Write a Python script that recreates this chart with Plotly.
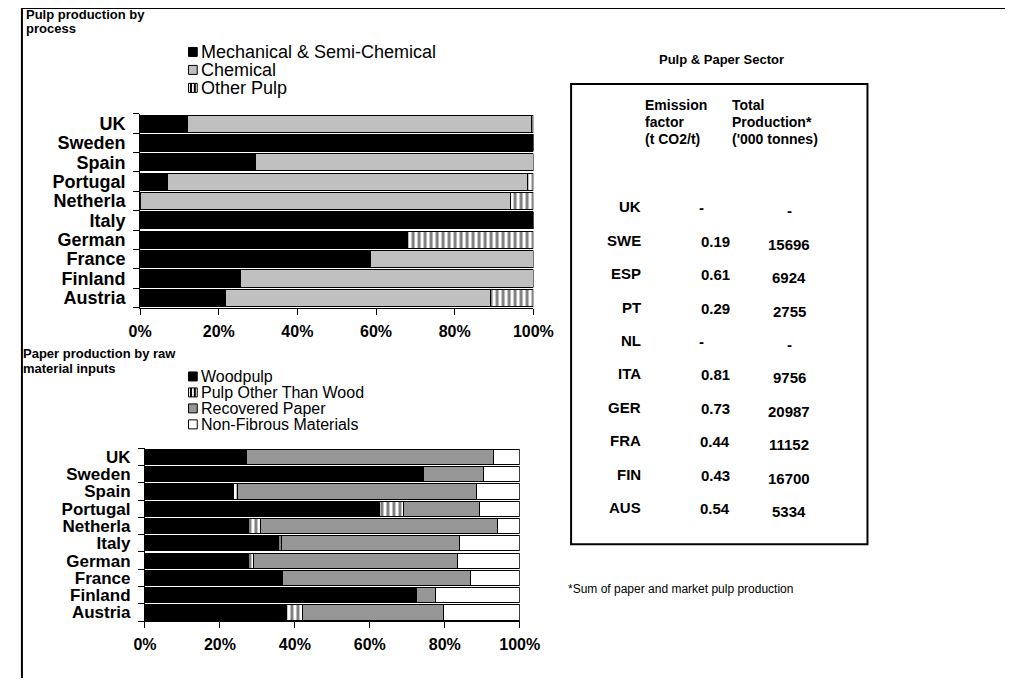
import plotly.graph_objects as go

# The page body adds an 8px margin on every side, so the figure is made
# 16px smaller than the window (no scrolling) and window-pixel positions
# below are shifted back by OFF.
WIN_W, WIN_H = 1033, 687
OFF = 8
W, H = WIN_W - 2 * OFF, WIN_H - 2 * OFF

countries = ["UK", "Sweden", "Spain", "Portugal", "Netherla", "Italy", "German", "France", "Finland", "Austria"]

# Pulp production by process (% shares)
pulp_series = ["Mechanical & Semi-Chemical", "Chemical", "Other Pulp"]
pulp_mech = [12.1, 100.0, 29.3, 7.0, 0.0, 100.0, 67.9, 58.5, 25.5, 21.6]
pulp_chem = [87.5, 0.0, 70.7, 91.6, 94.3, 0.0, 0.0, 41.5, 74.5, 67.5]
pulp_other = [0.4, 0.0, 0.0, 1.4, 5.7, 0.0, 32.1, 0.0, 0.0, 10.9]

# Paper production by raw material inputs (% shares)
paper_series = ["Woodpulp", "Pulp Other Than Wood", "Recovered Paper", "Non-Fibrous Materials"]
paper_wood = [27.0, 74.2, 23.7, 62.5, 27.6, 35.5, 27.6, 36.6, 72.4, 37.7]
paper_other = [0.0, 0.0, 1.1, 6.4, 3.2, 0.9, 1.3, 0.0, 0.0, 4.3]
paper_recov = [65.9, 16.2, 63.7, 20.3, 63.3, 47.6, 54.6, 50.2, 5.2, 37.7]
paper_nonfib = [7.1, 9.6, 11.5, 10.8, 5.9, 16.0, 16.5, 13.2, 22.4, 20.3]

pct_ticks = [0, 20, 40, 60, 80, 100]
pct_labels = [f"{v}%" for v in pct_ticks]

# Table
table_title = "Pulp & Paper Sector"
table_header_emission = ["Emission", "factor", "(t CO2/t)"]
table_header_production = ["Total", "Production*", "('000 tonnes)"]
table_codes = ["UK", "SWE", "ESP", "PT", "NL", "ITA", "GER", "FRA", "FIN", "AUS"]
table_emission = ["-", "0.19", "0.61", "0.29", "-", "0.81", "0.73", "0.44", "0.43", "0.54"]
table_production = ["-", "15696", "6924", "2755", "-", "9756", "20987", "11152", "16700", "5334"]
footnote = "*Sum of paper and market pulp production"

FONT = "Liberation Sans, Arial, sans-serif"


def px(x):
    return (x - OFF) / W


def py(y):
    return 1 - (y - OFF) / H


stripe = dict(shape="|", fgcolor="black", bgcolor="white", size=6, solidity=0.5)
outline = dict(color="black", width=1)

fig = go.Figure()

# Top chart
fig.add_trace(go.Bar(y=countries, x=pulp_mech, orientation="h", name=pulp_series[0],
                     marker=dict(color="black", line=outline), xaxis="x", yaxis="y"))
fig.add_trace(go.Bar(y=countries, x=pulp_chem, orientation="h", name=pulp_series[1],
                     marker=dict(color="#C0C0C0", line=outline), xaxis="x", yaxis="y"))
fig.add_trace(go.Bar(y=countries, x=pulp_other, orientation="h", name=pulp_series[2],
                     marker=dict(color="white", pattern=stripe, line=outline), xaxis="x", yaxis="y"))

# Bottom chart
fig.add_trace(go.Bar(y=countries, x=paper_wood, orientation="h", name=paper_series[0],
                     marker=dict(color="black", line=outline), xaxis="x2", yaxis="y2"))
fig.add_trace(go.Bar(y=countries, x=paper_other, orientation="h", name=paper_series[1],
                     marker=dict(color="white", pattern=stripe, line=outline), xaxis="x2", yaxis="y2"))
fig.add_trace(go.Bar(y=countries, x=paper_recov, orientation="h", name=paper_series[2],
                     marker=dict(color="#969696", line=outline), xaxis="x2", yaxis="y2"))
fig.add_trace(go.Bar(y=countries, x=paper_nonfib, orientation="h", name=paper_series[3],
                     marker=dict(color="white", line=outline), xaxis="x2", yaxis="y2"))

xax = dict(range=[0, 100], tickmode="array", tickvals=pct_ticks, ticktext=pct_labels,
           showgrid=False, zeroline=False, showline=True, linecolor="black", linewidth=1,
           ticks="outside", ticklen=6, tickcolor="black",
           tickfont=dict(family=FONT, size=16, color="black", weight="bold"),
           ticklabelstandoff=3, fixedrange=True)
yax = dict(autorange="reversed", tickmode="array", tickvals=countries, showgrid=False, zeroline=False,
           showline=True, linecolor="black", linewidth=1, ticks="outside", ticklen=6, tickcolor="black",
           tickson="boundaries", ticklabelstandoff=10, fixedrange=True)

fig.update_layout(
    width=W, height=H, margin=dict(l=0, r=0, t=0, b=0),
    paper_bgcolor="white", plot_bgcolor="white",
    barmode="stack", bargap=0.12, showlegend=False,
    font=dict(family=FONT, color="black"),
    xaxis=dict(xax, domain=[px(132), px(538)], anchor="y"),
    yaxis=dict(yax, domain=[py(308), py(114)], anchor="x",
               tickfont=dict(family=FONT, size=18, color="black", weight="bold")),
    xaxis2=dict(xax, domain=[px(137), px(524)], anchor="y2"),
    yaxis2=dict(yax, domain=[py(622), py(449)], anchor="x2",
                tickfont=dict(family=FONT, size=17, color="black", weight="bold")),
)

shapes = []
annots = []


def text(t, x, y, size, xanchor="left", yanchor="middle", bold=False):
    annots.append(dict(text=("<b>" + t + "</b>") if bold else t, x=px(x), y=py(y), xref="paper",
                       yref="paper", xanchor=xanchor, yanchor=yanchor, align="left", showarrow=False,
                       borderpad=0, font=dict(family=FONT, size=size, color="black")))


# outer frame
shapes.append(dict(type="line", xref="paper", yref="paper", x0=px(10), x1=1.0, y0=py(8), y1=py(8),
                   line=dict(color="black", width=2)))
shapes.append(dict(type="line", xref="paper", yref="paper", x0=px(10), x1=px(10), y0=py(8), y1=0,
                   line=dict(color="black", width=2)))

# titles
text("Pulp production by", 13, 15, 13, bold=True)
text("process", 13, 29, 13, bold=True)
text("Paper production by raw", 10, 354, 13, bold=True)
text("material inputs", 10, 369, 13, bold=True)


def legend_entry(label, ycen, kind, fsize):
    x0, x1 = 182, 191
    y0, y1 = ycen - 4.5, ycen + 4.5
    fill = {"black": "black", "light": "#C0C0C0", "mid": "#969696", "white": "white", "stripe": "white"}[kind]
    shapes.append(dict(type="rect", xref="paper", yref="paper", x0=px(x0), x1=px(x1), y0=py(y1), y1=py(y0),
                       fillcolor=fill, line=dict(color="black", width=1)))
    if kind == "stripe":
        for xs in (184.5, 188.5):
            shapes.append(dict(type="line", xref="paper", yref="paper", x0=px(xs), x1=px(xs), y0=py(y1),
                               y1=py(y0), line=dict(color="black", width=2)))
    text(label, 194, ycen, fsize)


for lab, yc, kind in zip(pulp_series, [52, 70, 88], ["black", "light", "stripe"]):
    legend_entry(lab, yc, kind, 18)
for lab, yc, kind in zip(paper_series, [377, 393, 409, 425], ["black", "stripe", "mid", "white"]):
    legend_entry(lab, yc, kind, 16)

# table
shapes.append(dict(type="rect", xref="paper", yref="paper", x0=px(577), x1=px(883), y0=py(545), y1=py(84),
                   line=dict(color="black", width=2)))
text(table_title, 732, 60, 13, xanchor="center", bold=True)
for k, (a, b) in enumerate(zip(table_header_emission, table_header_production)):
    yl = 105 + k * 17
    text(a, 652, yl, 14, bold=True)
    text(b, 742, yl, 14, bold=True)
for i, (c, e, p) in enumerate(zip(table_codes, table_emission, table_production)):
    yrow = 207 + i * 33.5
    text(c, 650, yrow, 15, xanchor="right", bold=True)
    text(e, 726 if e != "-" else 712, yrow + 1, 15, xanchor="center", bold=True)
    text(p, 802, yrow + 4, 15, xanchor="center", bold=True)
text(footnote, 573, 590, 12)

fig.update_layout(shapes=shapes, annotations=annots)

fig.write_html("out.html")
